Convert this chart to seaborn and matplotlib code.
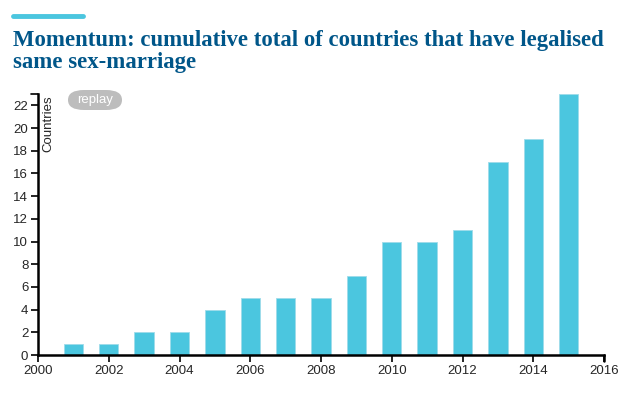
import numpy as np
import pandas as pd
import matplotlib
matplotlib.use('Agg')
import matplotlib.pyplot as plt
import seaborn as sns
from matplotlib.patches import FancyBboxPatch

# Data
years = [2001, 2002, 2003, 2004, 2005, 2006, 2007, 2008, 2009, 2010, 2011, 2012, 2013, 2014, 2015]
countries = [1, 1, 2, 2, 4, 5, 5, 5, 7, 10, 10, 11, 17, 19, 23]
x_ticks = [2000, 2002, 2004, 2006, 2008, 2010, 2012, 2014, 2016]
y_ticks = [0, 2, 4, 6, 8, 10, 12, 14, 16, 18, 20, 22]

title = 'Momentum: cumulative total of countries that have legalised\nsame sex-marriage'

df = pd.DataFrame({'year': years, 'countries': countries})

sns.set_style('white')
plt.rcParams['font.family'] = ['Liberation Sans', 'DejaVu Sans']

fig = plt.figure(figsize=(6.37, 4.0), dpi=100)
ax = fig.add_axes([38 / 637, 45 / 400, 566 / 637, 261 / 400])

sns.barplot(data=df, x='year', y='countries', native_scale=True, width=0.55,
            color='#4bc6df', saturation=1, edgecolor='#9fdcea', linewidth=0.6, ax=ax)

ax.set_xlim(2000, 2016)
ax.set_ylim(0, 23)
ax.set_xticks(x_ticks)
ax.set_yticks(y_ticks)
ax.set_xlabel('')
ax.set_ylabel('')
ax.tick_params(axis='both', direction='out', length=5, width=1.2, color='black',
               labelsize=9.5, pad=2, left=True, bottom=True)
for side in ['top', 'right']:
    ax.spines[side].set_visible(False)
for side in ['left', 'bottom']:
    ax.spines[side].set_color('black')
    ax.spines[side].set_linewidth(1.8)

# outer ticks at the axis ends
ax.plot([0, -0.012], [1, 1], transform=ax.transAxes, color='black', lw=1.2, clip_on=False)
ax.plot([1, 1], [0, -0.022], transform=ax.transAxes, color='black', lw=1.8, clip_on=False)

ax.text(0.018, 0.995, 'Countries', transform=ax.transAxes, rotation=90,
        ha='center', va='top', fontsize=9.5)

# replay button
btn = FancyBboxPatch((68 / 637, 290 / 400), 54 / 637, 20 / 400,
                     boxstyle='round,pad=0,rounding_size=0.025', transform=fig.transFigure,
                     facecolor='#bdbdbd', edgecolor='none')
fig.patches.append(btn)
fig.text(95 / 637, 300 / 400, 'replay', ha='center', va='center', color='white', fontsize=9.5)

# header
fig.add_artist(plt.Line2D([13 / 637, 83 / 637], [384 / 400, 384 / 400], color='#4bc6df', lw=3.5))
fig.text(13 / 637, 370 / 400, title, ha='left', va='top', color='#005689',
         fontsize=16.4, fontweight='bold', family=['Liberation Serif', 'DejaVu Serif'],
         linespacing=1.05)

fig.savefig('out.png', dpi=100)
